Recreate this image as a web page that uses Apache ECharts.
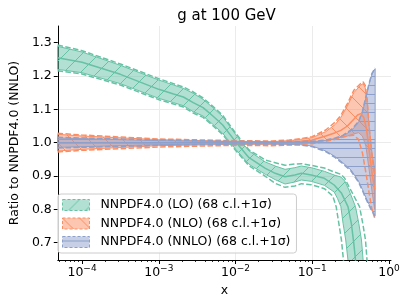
<!DOCTYPE html>
<html><head><meta charset="utf-8">
<script src="https://cdn.jsdelivr.net/npm/echarts@6/dist/echarts.min.js"></script>
<style>html,body{margin:0;padding:0;background:#fff}#c{width:408px;height:305px}</style>
</head><body><div id="c"></div>
<script>
// ---------- data ----------
const titleText = 'g at 100 GeV';
const yAxisTitle = 'Ratio to NNPDF4.0 (NNLO)';
const xAxisTitle = 'x';
const seriesNames = ['NNPDF4.0 (LO) (68 c.l.+1σ)', 'NNPDF4.0 (NLO) (68 c.l.+1σ)', 'NNPDF4.0 (NNLO) (68 c.l.+1σ)'];
const xTickValues = [1e-4, 1e-3, 1e-2, 1e-1, 1];
const yTickValues = [0.7, 0.8, 0.9, 1.0, 1.1, 1.2, 1.3];
const xRange = [4.83e-5, 1.062];
const yRange = [0.648, 1.35];

// LO
const loCentral = [[4.8e-5,1.255],[1e-4,1.241],[3.16e-4,1.205],[1e-3,1.16],[1.56e-3,1.146],[2.09e-3,1.137],[2.81e-3,1.12],[3.78e-3,1.105],[5.07e-3,1.08],[6.81e-3,1.053],[1e-2,1.003],[1.5e-2,0.955],[2.45e-2,0.923],[3.29e-2,0.908],[4.42e-2,0.898],[5.93e-2,0.903],[7.22e-2,0.908],[9.7e-2,0.903],[0.144,0.893],[0.193,0.873],[0.241,0.848],[0.292,0.808],[0.323,0.758],[0.347,0.70],[0.366,0.648],[0.388,0.60]];
const loUpper68 = [[4.8e-5,1.289],[1e-4,1.272],[3.16e-4,1.232],[1e-3,1.188],[1.56e-3,1.173],[2.09e-3,1.163],[2.81e-3,1.148],[3.78e-3,1.13],[5.07e-3,1.105],[6.81e-3,1.078],[1e-2,1.025],[1.5e-2,0.975],[2.45e-2,0.942],[3.29e-2,0.93],[4.42e-2,0.92],[5.93e-2,0.925],[7.22e-2,0.93],[9.7e-2,0.925],[0.144,0.914],[0.193,0.903],[0.236,0.897],[0.265,0.885],[0.301,0.858],[0.366,0.808],[0.404,0.758],[0.438,0.708],[0.46,0.648],[0.48,0.60]];
const loLower68 = [[4.8e-5,1.22],[1e-4,1.21],[3.16e-4,1.177],[1e-3,1.133],[1.56e-3,1.12],[2.09e-3,1.111],[2.81e-3,1.093],[3.78e-3,1.08],[5.07e-3,1.055],[6.81e-3,1.028],[1e-2,0.981],[1.5e-2,0.935],[2.45e-2,0.905],[3.29e-2,0.889],[4.42e-2,0.876],[5.93e-2,0.882],[7.22e-2,0.888],[9.7e-2,0.884],[0.144,0.872],[0.193,0.852],[0.213,0.833],[0.236,0.808],[0.252,0.758],[0.273,0.708],[0.292,0.648],[0.31,0.60]];
const loUpperSig = [[4.8e-5,1.293],[1e-4,1.276],[3.16e-4,1.236],[1e-3,1.192],[1.56e-3,1.177],[2.09e-3,1.167],[2.81e-3,1.152],[3.78e-3,1.134],[5.07e-3,1.109],[6.81e-3,1.082],[1e-2,1.029],[1.5e-2,0.978],[2.45e-2,0.948],[3.29e-2,0.94],[4.42e-2,0.932],[5.93e-2,0.936],[7.22e-2,0.937],[9.7e-2,0.932],[0.144,0.924],[0.193,0.912],[0.236,0.905],[0.265,0.893],[0.301,0.868],[0.413,0.808],[0.455,0.758],[0.494,0.708],[0.517,0.648],[0.54,0.60]];
const loLowerSig = [[4.8e-5,1.216],[1e-4,1.206],[3.16e-4,1.173],[1e-3,1.129],[1.56e-3,1.116],[2.09e-3,1.107],[2.81e-3,1.089],[3.78e-3,1.076],[5.07e-3,1.051],[6.81e-3,1.024],[1e-2,0.977],[1.5e-2,0.931],[2.45e-2,0.899],[3.29e-2,0.878],[4.42e-2,0.866],[5.93e-2,0.87],[7.22e-2,0.877],[9.7e-2,0.874],[0.144,0.862],[0.185,0.84],[0.205,0.808],[0.222,0.758],[0.24,0.708],[0.255,0.648],[0.27,0.60]];

// NLO
const nloCentral = [[4.8e-5,1.0],[1e-4,1.0],[1e-3,1.0],[1e-2,0.999],[3e-2,0.999],[5e-2,1.001],[7e-2,1.004],[0.1,1.008],[0.15,1.02],[0.2,1.03],[0.236,1.037],[0.287,1.05],[0.348,1.07],[0.39,1.083],[0.43,1.087],[0.47,1.075],[0.51,1.04],[0.55,0.98],[0.6,0.91],[0.65,0.86]];
const nloUpper68 = [[4.8e-5,1.025],[1e-4,1.02],[1e-3,1.009],[1e-2,1.004],[3e-2,1.003],[5e-2,1.006],[7e-2,1.01],[0.1,1.015],[0.15,1.033],[0.2,1.055],[0.236,1.076],[0.287,1.11],[0.348,1.15],[0.425,1.172],[0.46,1.177],[0.49,1.165],[0.52,1.12],[0.55,1.05],[0.6,0.97],[0.65,0.92]];
const nloLower68 = [[4.8e-5,0.975],[1e-4,0.98],[1e-3,0.991],[1e-2,0.995],[3e-2,0.995],[5e-2,0.996],[7e-2,0.998],[0.1,1.0],[0.15,1.007],[0.2,1.012],[0.236,1.016],[0.287,1.02],[0.348,1.026],[0.4,1.03],[0.45,1.02],[0.5,0.99],[0.55,0.92],[0.6,0.855],[0.65,0.80]];
const nloUpperSig = [[4.8e-5,1.028],[1e-4,1.023],[1e-3,1.011],[1e-2,1.006],[3e-2,1.005],[5e-2,1.008],[7e-2,1.012],[0.1,1.018],[0.15,1.038],[0.2,1.062],[0.236,1.082],[0.287,1.117],[0.348,1.157],[0.425,1.177],[0.46,1.182],[0.49,1.172],[0.52,1.13],[0.55,1.05],[0.6,0.96],[0.65,0.90]];
const nloLowerSig = [[4.8e-5,0.972],[1e-4,0.977],[1e-3,0.987],[1e-2,0.992],[3e-2,0.991],[5e-2,0.993],[7e-2,0.995],[0.1,0.997],[0.15,1.004],[0.2,1.01],[0.236,1.015],[0.287,1.02],[0.348,1.022],[0.4,1.01],[0.45,0.97],[0.5,0.91],[0.55,0.85],[0.6,0.80],[0.65,0.775]];

// NNLO
const nnloCentral = [[4.8e-5,1.0],[1e-3,1.0],[1e-2,1.0],[0.1,1.0],[0.66,1.0]];
const nnloUpper68 = [[4.8e-5,1.014],[1e-4,1.012],[1e-3,1.006],[1e-2,1.003],[3e-2,1.002],[0.1,1.003],[0.15,1.006],[0.2,1.012],[0.25,1.02],[0.32,1.035],[0.4,1.06],[0.45,1.09],[0.5,1.135],[0.55,1.175],[0.6,1.205],[0.66,1.222]];
const nnloLower68 = [[4.8e-5,0.986],[1e-4,0.988],[1e-3,0.994],[1e-2,0.997],[3e-2,0.997],[7e-2,0.994],[0.1,0.99],[0.15,0.975],[0.2,0.958],[0.25,0.94],[0.32,0.918],[0.4,0.885],[0.45,0.86],[0.5,0.835],[0.55,0.815],[0.6,0.797],[0.66,0.782]];
const nnloUpperSig = [[4.8e-5,1.016],[1e-4,1.014],[1e-3,1.008],[1e-2,1.004],[3e-2,1.003],[0.1,1.004],[0.15,1.008],[0.2,1.014],[0.25,1.022],[0.32,1.038],[0.4,1.063],[0.45,1.093],[0.5,1.138],[0.55,1.178],[0.6,1.208],[0.66,1.224]];
const nnloLowerSig = [[4.8e-5,0.984],[1e-4,0.986],[1e-3,0.992],[1e-2,0.996],[3e-2,0.996],[7e-2,0.993],[0.1,0.988],[0.15,0.973],[0.2,0.955],[0.25,0.937],[0.32,0.915],[0.4,0.882],[0.45,0.857],[0.5,0.832],[0.55,0.812],[0.6,0.794],[0.66,0.779]];

// ---------- styling ----------
const FONT = 'DejaVu Sans';
const colors = {lo:'102,194,165', nlo:'252,141,98', nnlo:'141,160,203'};

function hatch(rgb, kind) {
  const s = kind === '-' ? 9 : 17;
  const c = document.createElement('canvas'); c.width = s; c.height = s;
  const g = c.getContext('2d');
  g.fillStyle = 'rgba(' + rgb + ',0.5)'; g.fillRect(0, 0, s, s);
  g.strokeStyle = 'rgb(' + rgb + ')'; g.lineWidth = 1;
  g.beginPath();
  if (kind === '/') { g.moveTo(-1, s + 1); g.lineTo(s + 1, -1); g.moveTo(-2, 2); g.lineTo(2, -2); g.moveTo(s - 2, s + 2); g.lineTo(s + 2, s - 2); }
  else if (kind === '\\') { g.moveTo(-1, -1); g.lineTo(s + 1, s + 1); g.moveTo(s - 2, -2); g.lineTo(s + 2, 2); g.moveTo(-2, s - 2); g.lineTo(2, s + 2); }
  else { g.moveTo(0, Math.floor(s / 2) + 0.5); g.lineTo(s, Math.floor(s / 2) + 0.5); }
  g.stroke();
  return {image: c, repeat: 'repeat'};
}

const xMinorTicks = [];
[1e-5, 1e-4, 1e-3, 1e-2, 1e-1].forEach(d => { for (let k = 2; k <= 9; k++) { const v = +(d * k).toPrecision(3); if (v >= xRange[0] && v <= xRange[1]) xMinorTicks.push(v); } });

function band(name, upper, lower, rgb, kind) {
  const pts = upper.concat(lower.slice().reverse());
  const fill = hatch(rgb, kind);
  return {
    type: 'custom', name: name, coordinateSystem: 'cartesian2d', clip: true, silent: true,
    data: pts,
    itemStyle: {color: 'rgb(' + rgb + ')'},
    renderItem: function (params, api) {
      if (params.dataIndex !== 0) return null;
      const poly = [];
      for (let i = 0; i < params.dataInsideLength; i++) {
        poly.push(api.coord([api.value(0, i), api.value(1, i)]));
      }
      return {type: 'polygon', shape: {points: poly}, style: {fill: fill, stroke: 'rgb(' + rgb + ')', lineWidth: 1}};
    }
  };
}
function line(data, rgb, dashed) {
  return {
    type: 'line', data: data, showSymbol: false, symbol: 'none', silent: true, clip: true,
    lineStyle: {color: 'rgb(' + rgb + ')', width: 1.5, type: dashed ? [5.5, 2.4] : 'solid'},
    emphasis: {disabled: true}
  };
}

const series = [
  band(seriesNames[0], loUpper68, loLower68, colors.lo, '/'),
  line(loCentral, colors.lo, false), line(loUpperSig, colors.lo, true), line(loLowerSig, colors.lo, true),
  band(seriesNames[1], nloUpper68, nloLower68, colors.nlo, '\\'),
  line(nloCentral, colors.nlo, false), line(nloUpperSig, colors.nlo, true), line(nloLowerSig, colors.nlo, true),
  band(seriesNames[2], nnloUpper68, nnloLower68, colors.nnlo, '-'),
  line(nnloCentral, colors.nnlo, false), line(nnloUpperSig, colors.nnlo, true), line(nnloLowerSig, colors.nnlo, true)
];

const kinds = ['/', '\\', '-'];
const rgbs = [colors.lo, colors.nlo, colors.nnlo];

const chart = echarts.init(document.getElementById('c'), null, {renderer: 'canvas'});
chart.setOption({
  animation: false,
  textStyle: {fontFamily: FONT},
  title: {text: titleText, left: 221.5, textAlign: 'center', top: 4,
    textStyle: {fontFamily: FONT, fontSize: 15, fontWeight: 'normal', color: '#000'}},
  grid: {left: 52, right: 17, top: 26, bottom: 45, containLabel: false},
  legend: {
    orient: 'vertical', left: 58, top: 194, padding: [4, 6, 4, 4],
    itemWidth: 27, itemHeight: 11, itemGap: 4.5,
    backgroundColor: 'rgba(255,255,255,0.8)', borderColor: '#cccccc', borderWidth: 1, borderRadius: 3,
    textStyle: {fontFamily: FONT, fontSize: 12.5, color: '#000', lineHeight: 14, padding: [0, 0, 0, 6]},
    selectedMode: false,
    data: seriesNames.map((n, i) => ({name: n, icon: 'rect',
      itemStyle: {color: hatch(rgbs[i], kinds[i]), borderColor: 'rgb(' + rgbs[i] + ')', borderWidth: 1, borderType: [3, 2]}}))
  },
  xAxis: [{
    type: 'log', logBase: 10, min: xRange[0], max: xRange[1],
    name: xAxisTitle, nameLocation: 'middle', nameGap: 19,
    nameTextStyle: {fontFamily: FONT, fontSize: 12.5, color: '#000'},
    axisLine: {show: true, onZero: false, lineStyle: {color: '#000', width: 1}},
    axisTick: {show: true, length: 4, customValues: xTickValues, lineStyle: {color: '#000', width: 1}},
    axisLabel: {show: true, margin: 4.5, customValues: xTickValues, color: '#000',
      formatter: v => { const e = Math.round(Math.log10(v)); return '{b|10}{s|' + (e < 0 ? '\u2212' + (-e) : e) + '}'; },
      rich: {b: {fontFamily: FONT, fontSize: 12.5, lineHeight: 15, color: '#000', verticalAlign: 'bottom'},
             s: {fontFamily: FONT, fontSize: 9, lineHeight: 9, color: '#000', verticalAlign: 'top'}}},
    splitLine: {show: true, showMinLine: false, showMaxLine: false, lineStyle: {color: '#ebebeb', width: 1}}
  }, {
    type: 'log', logBase: 10, min: xRange[0], max: xRange[1], position: 'bottom',
    axisLine: {show: false}, axisLabel: {show: false}, splitLine: {show: false},
    axisTick: {show: true, length: 2, customValues: xMinorTicks, lineStyle: {color: '#000', width: 0.8}}
  }],
  yAxis: {
    type: 'value', min: yRange[0], max: yRange[1], splitNumber: 7,
    name: yAxisTitle, nameLocation: 'middle', nameGap: 33,
    nameTextStyle: {fontFamily: FONT, fontSize: 12.5, color: '#000'},
    axisLine: {show: true, onZero: false, lineStyle: {color: '#000', width: 1}},
    axisTick: {show: true, length: 4, customValues: yTickValues, lineStyle: {color: '#000', width: 1}},
    axisLabel: {show: true, margin: 6, customValues: yTickValues, color: '#000', fontFamily: FONT, fontSize: 12.5,
      formatter: v => v.toFixed(1)},
    splitLine: {show: true, showMinLine: false, showMaxLine: false, lineStyle: {color: '#ebebeb', width: 1}}
  },
  series: series
});
</script>
</body></html>
